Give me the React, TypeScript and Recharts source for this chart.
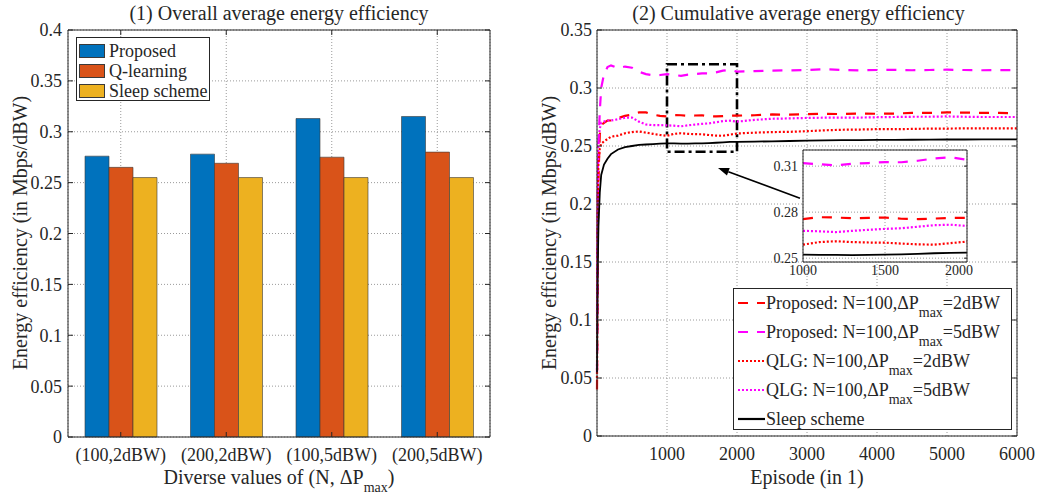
import React from 'react'
import { BarChart, Bar, LineChart, Line, XAxis, YAxis, CartesianGrid, ReferenceArea, ReferenceLine } from 'recharts'

const FONT = '"Liberation Serif", "Times New Roman", serif'
const INK = '#262626'
const GRID = '#9a9a9a'

// (1) bar chart
const CASES = ['(100,2dBW)', '(200,2dBW)', '(100,5dBW)', '(200,5dBW)']
const PROPOSED = [0.276, 0.278, 0.313, 0.315]
const Q_LEARNING = [0.265, 0.269, 0.275, 0.28]
const SLEEP = [0.255, 0.255, 0.255, 0.255]
const BAR_TICKS = [0, 0.05, 0.1, 0.15, 0.2, 0.25, 0.3, 0.35, 0.4]

// (2) cumulative curves
const EPISODES = [
  0, 10, 20, 40, 60, 100, 150, 200, 300, 400, 500, 600, 700, 800, 900,
  1000, 1100, 1200, 1300, 1400, 1500, 1600, 1700, 1800, 1900, 2000,
  2250, 2500, 2750, 3000, 3250, 3500, 3750, 4000, 4250, 4500, 4750, 5000, 5250, 5500, 5750, 6000,
]
const PROPOSED_2DBW = [
  0.04, 0.15, 0.22, 0.26, 0.268, 0.27, 0.272, 0.272, 0.274, 0.276, 0.277, 0.279, 0.279, 0.277, 0.276,
  0.2755, 0.2767, 0.2765, 0.276, 0.2763, 0.2765, 0.2757, 0.2755, 0.2758, 0.2762, 0.2762,
  0.2765, 0.2772, 0.277, 0.2775, 0.2778, 0.2775, 0.278, 0.2778, 0.278, 0.2785, 0.2785, 0.279, 0.2788, 0.2785, 0.2785, 0.2783,
]
const PROPOSED_5DBW = [
  0.055, 0.2, 0.25, 0.28, 0.3, 0.312, 0.318, 0.3195, 0.317, 0.3185, 0.3175, 0.314, 0.312, 0.311, 0.3112,
  0.312, 0.3112, 0.3105, 0.3115, 0.312, 0.3126, 0.3125, 0.3135, 0.315, 0.3157, 0.3141,
  0.3145, 0.315, 0.3152, 0.3155, 0.3163, 0.3155, 0.3152, 0.3155, 0.3156, 0.3153, 0.3155, 0.3158, 0.3155, 0.3153, 0.3154, 0.3154,
]
const QLG_2DBW = [
  0.05, 0.2, 0.235, 0.248, 0.252, 0.254, 0.256, 0.258, 0.259, 0.261, 0.262, 0.2625, 0.2615, 0.2605, 0.2595,
  0.2588, 0.2605, 0.261, 0.2605, 0.2602, 0.2601, 0.2595, 0.259, 0.2588, 0.2598, 0.2608,
  0.2615, 0.262, 0.2622, 0.2628, 0.2635, 0.264, 0.2642, 0.2645, 0.2645, 0.2647, 0.265, 0.265, 0.2652, 0.2652, 0.2652, 0.2652,
]
const QLG_5DBW = [
  0.1, 0.22, 0.255, 0.265, 0.27, 0.271, 0.272, 0.272, 0.273, 0.2745, 0.2745, 0.271, 0.2685, 0.268, 0.268,
  0.2678, 0.2675, 0.267, 0.2678, 0.2685, 0.2691, 0.2695, 0.2705, 0.2715, 0.2718, 0.271,
  0.2725, 0.2735, 0.2738, 0.2742, 0.2744, 0.2745, 0.2745, 0.2748, 0.275, 0.2752, 0.2752, 0.2755, 0.2752, 0.275, 0.275, 0.275,
]
const SLEEP_CURVE = [
  0.055, 0.14, 0.18, 0.21, 0.225, 0.234, 0.239, 0.243, 0.247, 0.249, 0.25, 0.251, 0.2513, 0.2517, 0.252,
  0.2523, 0.2522, 0.2521, 0.252, 0.2522, 0.2523, 0.2525, 0.2528, 0.2532, 0.2535, 0.2536,
  0.2538, 0.254, 0.2543, 0.2546, 0.2548, 0.255, 0.2551, 0.2552, 0.2553, 0.2554, 0.2555, 0.2556, 0.2556, 0.2557, 0.2557, 0.2557,
]
const LINE_Y_TICKS = [0, 0.05, 0.1, 0.15, 0.2, 0.25, 0.3, 0.35]
const LINE_X_TICKS = [1000, 2000, 3000, 4000, 5000, 6000]
const INSET_X_TICKS = [1000, 1500, 2000]
const INSET_Y_TICKS = [0.25, 0.28, 0.31]

const SERIES = [
  { key: 'p2', color: '#ff0000', dash: '10 9', label: 'Proposed: N=100,\u0394P', tail: '=2dBW' },
  { key: 'p5', color: '#ff00ff', dash: '10 9', label: 'Proposed: N=100,\u0394P', tail: '=5dBW' },
  { key: 'q2', color: '#ff0000', dash: '2 2', label: 'QLG: N=100,\u0394P', tail: '=2dBW' },
  { key: 'q5', color: '#ff00ff', dash: '2 2', label: 'QLG: N=100,\u0394P', tail: '=5dBW' },
  { key: 'sleep', color: '#000000', dash: undefined, label: 'Sleep scheme', tail: '' },
]

const BAR_SERIES = [
  { key: 'proposed', color: '#0072BD', label: 'Proposed' },
  { key: 'q', color: '#D95319', label: 'Q-learning' },
  { key: 'sleep', color: '#EDB120', label: 'Sleep scheme' },
]

const tickStyle = { fill: INK, fontSize: 18, fontFamily: FONT }
const noLabel = () => ''

const Sub = ({ children }: { children: React.ReactNode }) => (
  <span style={{ fontSize: 14, position: 'relative', top: 8 }}>{children}</span>
)

const Arrow = (props: any) => {
  const { x1, y1, x2, y2 } = props
  const ang = Math.atan2(y2 - y1, x2 - x1)
  const len = 11
  const w = 4
  const bx = x2 - len * Math.cos(ang)
  const by = y2 - len * Math.sin(ang)
  const px = -Math.sin(ang) * w
  const py = Math.cos(ang) * w
  return (
    <g>
      <line x1={x1} y1={y1} x2={bx} y2={by} stroke="#000" strokeWidth={1.6} />
      <polygon points={`${x2},${y2} ${bx + px},${by + py} ${bx - px},${by - py}`} fill="#000" />
    </g>
  )
}

export default function App() {
  const barRows = CASES.map((c, i) => ({ cat: c, proposed: PROPOSED[i], q: Q_LEARNING[i], sleep: SLEEP[i] }))
  const lineRows = EPISODES.map((ep, i) => ({
    ep,
    p2: PROPOSED_2DBW[i],
    p5: PROPOSED_5DBW[i],
    q2: QLG_2DBW[i],
    q5: QLG_5DBW[i],
    sleep: SLEEP_CURVE[i],
  }))
  const insetRows = lineRows.filter(r => r.ep >= 1000 && r.ep <= 2000)

  const abs = (style: React.CSSProperties): React.CSSProperties => ({ position: 'absolute', ...style })

  return (
    <div style={{ position: 'absolute', left: 0, top: 0, width: 1039, height: 500, background: '#fff', fontFamily: FONT, color: INK, overflow: 'hidden' }}>
      {/* (1) bars */}
      <div style={abs({ left: 0, top: 0 })}>
        <BarChart width={500} height={500} data={barRows} margin={{ top: 30, right: 10, bottom: 0, left: 0 }} barCategoryGap={17} barGap={0}>
          <CartesianGrid stroke={GRID} strokeDasharray="1 2" />
          <XAxis dataKey="cat" height={63} tick={tickStyle} tickSize={0} tickMargin={11} axisLine={{ stroke: INK }} />
          <XAxis xAxisId="b" dataKey="cat" mirror tickFormatter={noLabel} tickSize={5} tickLine={{ stroke: INK }} axisLine={false} />
          <XAxis xAxisId="t" dataKey="cat" orientation="top" mirror tickFormatter={noLabel} tickSize={5} tickLine={{ stroke: INK }} axisLine={{ stroke: INK }} />
          <YAxis width={68} domain={[0, 0.4]} ticks={BAR_TICKS} tick={tickStyle} tickSize={0} tickMargin={6} axisLine={{ stroke: INK }} />
          <YAxis yAxisId="l" domain={[0, 0.4]} ticks={BAR_TICKS} allowDataOverflow mirror tickFormatter={noLabel} tickSize={5} tickLine={{ stroke: INK }} axisLine={false} />
          <YAxis yAxisId="r" orientation="right" domain={[0, 0.4]} ticks={BAR_TICKS} allowDataOverflow mirror tickFormatter={noLabel} tickSize={5} tickLine={{ stroke: INK }} axisLine={{ stroke: INK }} />
          {BAR_SERIES.map(s => (
            <Bar key={s.key} dataKey={s.key} fill={s.color} stroke="#3a3a3a" strokeWidth={0.6} isAnimationActive={false} />
          ))}
        </BarChart>
      </div>
      <div style={abs({ left: 0, width: 558, top: 0, textAlign: 'center', fontSize: 20, lineHeight: '26px' })}>
        (1) Overall average energy efficiency
      </div>
      <div style={abs({ left: 20, top: 233, fontSize: 20, whiteSpace: 'nowrap', transform: 'translate(-50%, -50%) rotate(-90deg)' })}>
        Energy efficiency (in Mbps/dBW)
      </div>
      <div style={abs({ left: 279, top: 466, fontSize: 20, whiteSpace: 'nowrap', transform: 'translateX(-50%)' })}>
        Diverse values of (N, {'\u0394'}P<Sub>max</Sub>)
      </div>
      <div style={abs({ left: 76, top: 37, width: 134, height: 64, border: `1px solid ${INK}`, background: '#fff', padding: '3px 0 0 2px', boxSizing: 'border-box' })}>
        {BAR_SERIES.map(s => (
          <div key={s.key} style={{ display: 'flex', alignItems: 'center', height: 20, fontSize: 18 }}>
            <div style={{ width: 26, height: 14, background: s.color, border: '0.5px solid #3a3a3a', marginRight: 4, boxSizing: 'border-box' }} />
            <span>{s.label}</span>
          </div>
        ))}
      </div>

      {/* (2) lines */}
      <div style={abs({ left: 520, top: 0 })}>
        <LineChart width={519} height={500} data={lineRows} margin={{ top: 30, right: 22, bottom: 0, left: 0 }}>
          <CartesianGrid stroke={GRID} strokeDasharray="1 2" />
          <XAxis dataKey="ep" type="number" domain={[0, 6000]} ticks={LINE_X_TICKS} height={64} tick={tickStyle} tickSize={0} tickMargin={11} axisLine={{ stroke: INK }} />
          <XAxis xAxisId="b" type="number" domain={[0, 6000]} ticks={LINE_X_TICKS} allowDataOverflow mirror tickFormatter={noLabel} tickSize={5} tickLine={{ stroke: INK }} axisLine={false} />
          <XAxis xAxisId="t" type="number" orientation="top" domain={[0, 6000]} ticks={LINE_X_TICKS} allowDataOverflow mirror tickFormatter={noLabel} tickSize={5} tickLine={{ stroke: INK }} axisLine={{ stroke: INK }} />
          <YAxis width={77} domain={[0, 0.35]} ticks={LINE_Y_TICKS} tick={tickStyle} tickSize={0} tickMargin={5} axisLine={{ stroke: INK }} />
          <YAxis yAxisId="l" domain={[0, 0.35]} ticks={LINE_Y_TICKS} allowDataOverflow mirror tickFormatter={noLabel} tickSize={5} tickLine={{ stroke: INK }} axisLine={false} />
          <YAxis yAxisId="r" orientation="right" domain={[0, 0.35]} ticks={LINE_Y_TICKS} allowDataOverflow mirror tickFormatter={noLabel} tickSize={5} tickLine={{ stroke: INK }} axisLine={{ stroke: INK }} />
          {SERIES.map(s => (
            <Line key={s.key} dataKey={s.key} stroke={s.color} strokeWidth={s.dash ? 2.2 : 1.8} strokeDasharray={s.dash} dot={false} isAnimationActive={false} />
          ))}
          <ReferenceArea x1={1000} x2={2000} y1={0.245} y2={0.3205} fill="none" stroke="#000" strokeWidth={2.6} strokeDasharray="10 4 3 4" />
          <ReferenceLine segment={[{ x: 2900, y: 0.205 }, { x: 1729, y: 0.231 }]} shape={Arrow} />
        </LineChart>
      </div>
      <div style={abs({ left: 558, width: 481, top: 0, textAlign: 'center', fontSize: 20, lineHeight: '26px' })}>
        (2) Cumulative average energy efficiency
      </div>
      <div style={abs({ left: 549, top: 233, fontSize: 20, whiteSpace: 'nowrap', transform: 'translate(-50%, -50%) rotate(-90deg)' })}>
        Energy efficiency (in Mbps/dBW)
      </div>
      <div style={abs({ left: 807, top: 466, fontSize: 20, whiteSpace: 'nowrap', transform: 'translateX(-50%)' })}>
        Episode (in 1)
      </div>

      {/* inset */}
      <div style={abs({ left: 803, top: 150, width: 164, height: 112, background: '#fff' })} />
      <div style={abs({ left: 753, top: 140 })}>
        <LineChart width={220} height={145} data={insetRows} margin={{ top: 10, right: 6, bottom: 0, left: 0 }}>
          <CartesianGrid stroke={GRID} strokeDasharray="1 2" />
          <XAxis dataKey="ep" type="number" domain={[1000, 2000]} ticks={INSET_X_TICKS} height={23} tick={{ ...tickStyle, fontSize: 14 }} tickSize={0} tickMargin={3} axisLine={{ stroke: INK }} />
          <XAxis xAxisId="t" type="number" orientation="top" domain={[1000, 2000]} ticks={INSET_X_TICKS} allowDataOverflow mirror tickFormatter={noLabel} tickSize={3} tickLine={{ stroke: INK }} axisLine={{ stroke: INK }} />
          <YAxis width={50} domain={[0.2475, 0.3205]} ticks={INSET_Y_TICKS} allowDataOverflow tick={{ ...tickStyle, fontSize: 14 }} tickSize={0} tickMargin={5} axisLine={{ stroke: INK }} />
          <YAxis yAxisId="r" orientation="right" domain={[0.2475, 0.3205]} ticks={INSET_Y_TICKS} allowDataOverflow mirror tickFormatter={noLabel} tickSize={3} tickLine={{ stroke: INK }} axisLine={{ stroke: INK }} />
          {SERIES.map(s => (
            <Line key={s.key} dataKey={s.key} stroke={s.color} strokeWidth={s.dash ? 2.2 : 1.8} strokeDasharray={s.dash} dot={false} isAnimationActive={false} />
          ))}
        </LineChart>
      </div>

      {/* legend (2) */}
      <div style={abs({ left: 733, top: 288, width: 279, height: 142, border: `1px solid ${INK}`, background: '#fff', boxSizing: 'border-box', paddingTop: 1 })}>
        {SERIES.map(s => (
          <div key={s.key} style={{ display: 'flex', alignItems: 'flex-start', height: 29, fontSize: 18, lineHeight: '26px', whiteSpace: 'nowrap' }}>
            <svg width={32} height={26} style={{ flex: 'none' }}>
              <line x1={4} y1={13} x2={31} y2={13} stroke={s.color} strokeWidth={2.2} strokeDasharray={s.dash} />
            </svg>
            <span>
              {s.label}
              {s.tail ? <Sub>max</Sub> : null}
              {s.tail}
            </span>
          </div>
        ))}
      </div>
    </div>
  )
}
